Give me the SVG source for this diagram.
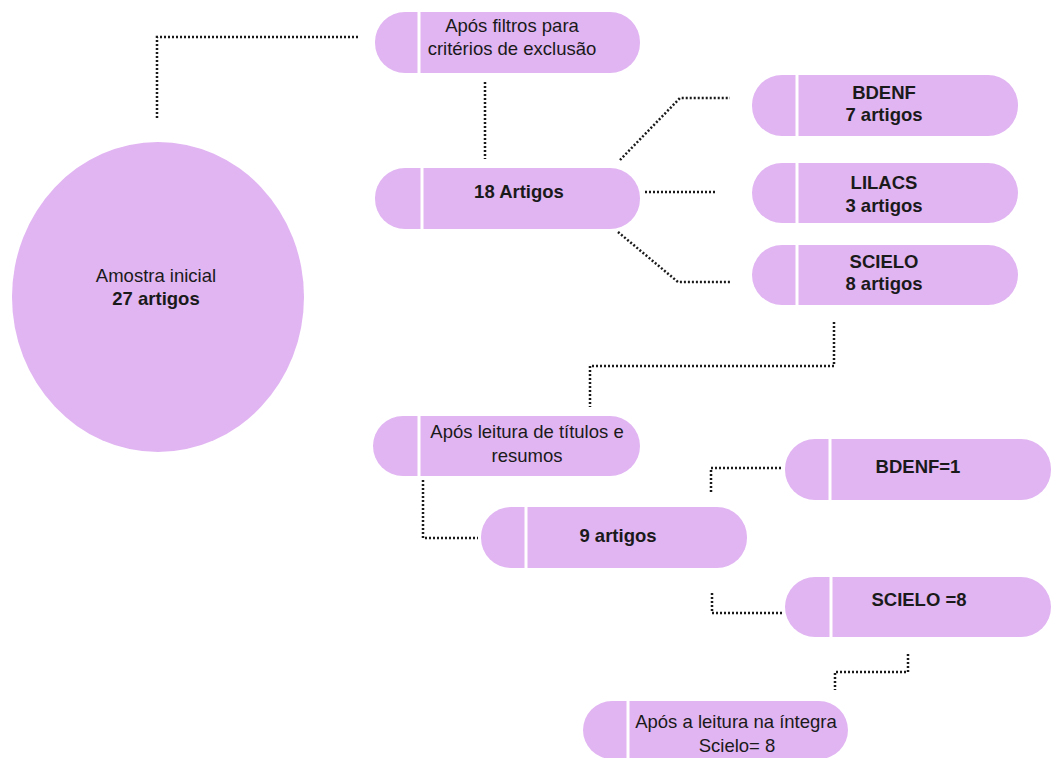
<svg xmlns="http://www.w3.org/2000/svg" width="1052" height="758" viewBox="0 0 1052 758">
<style>
.pill{fill:#e1b5f2}
.div{stroke:#ffffff;stroke-width:3}
.t{font-family:"Liberation Sans",Arial,sans-serif;font-size:18.5px;fill:#1a1a1a;text-anchor:middle}
.b{font-weight:bold}
.c{fill:none;stroke:#1a1a1a;stroke-width:2.5;stroke-dasharray:2 2}
</style>
<rect width="1052" height="758" fill="#ffffff"/>
<g id="connectors">
<path class="c" d="M157,118 V37 H360"/>
<path class="c" d="M485,82 V159"/>
<path class="c" d="M620,160 L680,98 H730"/>
<path class="c" d="M645,192 H717"/>
<path class="c" d="M618,232 L678,282 H730"/>
<path class="c" d="M834,322 V366 H590 V407"/>
<path class="c" d="M423,480 V538 H478"/>
<path class="c" d="M711,492 V468 H783"/>
<path class="c" d="M712,593 V613 H783"/>
<path class="c" d="M908,654 V672 H835 V690"/>
</g>
<g id="amostra">
<ellipse class="pill" cx="158" cy="297" rx="146" ry="155"/>
<text class="t" x="156" y="282">Amostra inicial</text>
<text class="t b" x="156" y="305">27 artigos</text>
</g>
<g id="filtros">
<rect class="pill" x="375" y="12" width="265" height="61" rx="30"/>
<line class="div" x1="419" y1="12" x2="419" y2="73"/>
<text class="t" x="512" y="32">Após filtros para</text>
<text class="t" x="512" y="55">critérios de exclusão</text>
</g>
<g id="artigos18">
<rect class="pill" x="375" y="168" width="265" height="61" rx="30"/>
<line class="div" x1="422" y1="168" x2="422" y2="229"/>
<text class="t b" x="519" y="198">18 Artigos</text>
</g>
<g id="bdenf">
<rect class="pill" x="752" y="75" width="266" height="61" rx="30"/>
<line class="div" x1="797" y1="75" x2="797" y2="136"/>
<text class="t b" x="884" y="99">BDENF</text>
<text class="t b" x="884" y="121">7 artigos</text>
</g>
<g id="lilacs">
<rect class="pill" x="752" y="163" width="266" height="60" rx="30"/>
<line class="div" x1="797" y1="163" x2="797" y2="223"/>
<text class="t b" x="884" y="189">LILACS</text>
<text class="t b" x="884" y="212">3 artigos</text>
</g>
<g id="scielo">
<rect class="pill" x="752" y="245" width="266" height="60" rx="30"/>
<line class="div" x1="797" y1="245" x2="797" y2="305"/>
<text class="t b" x="884" y="268">SCIELO</text>
<text class="t b" x="884" y="290">8 artigos</text>
</g>
<g id="leitura">
<rect class="pill" x="373" y="416" width="267" height="60" rx="30"/>
<line class="div" x1="419" y1="416" x2="419" y2="476"/>
<text class="t" x="527" y="438">Após leitura de títulos e</text>
<text class="t" x="527" y="462">resumos</text>
</g>
<g id="artigos9">
<rect class="pill" x="481" y="507" width="266" height="61" rx="30"/>
<line class="div" x1="526" y1="507" x2="526" y2="568"/>
<text class="t b" x="618" y="542">9 artigos</text>
</g>
<g id="bdenf1">
<rect class="pill" x="785" y="439" width="266" height="61" rx="30"/>
<line class="div" x1="830" y1="439" x2="830" y2="500"/>
<text class="t b" x="918" y="473">BDENF=1</text>
</g>
<g id="scielo8">
<rect class="pill" x="785" y="577" width="266" height="60" rx="30"/>
<line class="div" x1="831" y1="577" x2="831" y2="637"/>
<text class="t b" x="919" y="606">SCIELO =8</text>
</g>
<g id="integra">
<rect class="pill" x="583" y="701" width="265" height="58" rx="29"/>
<line class="div" x1="628" y1="701" x2="628" y2="759"/>
<text class="t" x="736" y="728">Após a leitura na íntegra</text>
<text class="t" x="737" y="752">Scielo= 8</text>
</g>
</svg>
